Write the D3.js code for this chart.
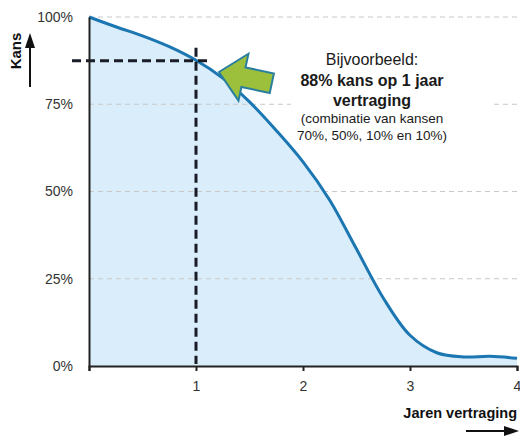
<!DOCTYPE html>
<html>
<head>
<meta charset="utf-8">
<script src="https://cdn.jsdelivr.net/npm/d3@7"></script>
<style>
  body { margin: 0; background: #fff; }
  svg { display: block; font-family: "Liberation Sans", Arial, sans-serif; }
</style>
</head>
<body>
<svg id="chart" width="520" height="436"></svg>
<script>
// Chart data
const years = [0, 0.25, 0.5, 0.75, 1, 1.25, 1.5, 1.75, 2, 2.25, 2.5, 2.75, 3, 3.25, 3.5, 3.75, 4];
const kans = [1.0, 0.972, 0.946, 0.915, 0.876, 0.825, 0.757, 0.675, 0.585, 0.475, 0.335, 0.195, 0.088, 0.038, 0.026, 0.028, 0.022];
const xTicks = [0, 1, 2, 3, 4];
const yTicks = [0, 0.25, 0.5, 0.75, 1];
const highlightYear = 1;
const highlightKans = 0.875;
const noteLines = ['Bijvoorbeeld:', '88% kans op 1 jaar', 'vertraging', '(combinatie van kansen', '70%, 50%, 10% en 10%)'];

const svg = d3.select('#chart');

const x = d3.scaleLinear().domain([0, 4]).range([89, 517]);
const y = d3.scaleLinear().domain([0, 1]).range([366, 17]);

const points = years.map((yr, i) => ({ yr: yr, p: kans[i] }));
const smooth = d3.curveCatmullRom.alpha(0.5);

// Filled area under the curve
const area = d3.area()
    .x(d => x(d.yr))
    .y0(y(0))
    .y1(d => y(d.p))
    .curve(smooth);

svg.append('path')
    .datum(points)
    .attr('d', area)
    .attr('fill', '#daedfb');

// Light dashed gridlines
svg.append('g')
    .selectAll('line')
    .data(yTicks.filter(t => t > 0))
    .enter().append('line')
    .attr('x1', x(0))
    .attr('x2', x(4))
    .attr('y1', d => y(d))
    .attr('y2', d => y(d))
    .attr('stroke', '#c8c8c8')
    .attr('stroke-width', 1)
    .attr('stroke-dasharray', '5,4');

// White backing behind the annotation (hides the 75% gridline there)
svg.append('rect')
    .attr('x', 291)
    .attr('y', 46)
    .attr('width', 201)
    .attr('height', 66)
    .attr('fill', '#fff');

// Curve
const line = d3.line()
    .x(d => x(d.yr))
    .y(d => y(d.p))
    .curve(smooth);

svg.append('path')
    .datum(points)
    .attr('d', line)
    .attr('fill', 'none')
    .attr('stroke', '#1b76b2')
    .attr('stroke-width', 3);

// Dashed reference lines for the example
svg.append('line')
    .attr('x1', x(0) - 17)
    .attr('x2', x(highlightYear) + 14)
    .attr('y1', y(highlightKans))
    .attr('y2', y(highlightKans))
    .attr('stroke', '#1a1c28')
    .attr('stroke-width', 3)
    .attr('stroke-dasharray', '9,5');

svg.append('line')
    .attr('x1', x(highlightYear))
    .attr('x2', x(highlightYear))
    .attr('y1', y(highlightKans) - 13)
    .attr('y2', y(0) - 2)
    .attr('stroke', '#1a1c28')
    .attr('stroke-width', 3)
    .attr('stroke-dasharray', '9,5');

// Axes
const xAxis = d3.axisBottom(x)
    .tickValues(xTicks)
    .tickSize(5)
    .tickPadding(10)
    .tickFormat(d => d === 0 ? '' : d);

const gx = svg.append('g')
    .attr('transform', `translate(0,${y(0)})`)
    .call(xAxis);
gx.select('.domain').attr('stroke', '#222').attr('stroke-width', 2);
gx.selectAll('.tick line').attr('stroke', '#222').attr('stroke-width', 2);
gx.selectAll('.tick text')
    .attr('font-size', '14px')
    .attr('font-family', '"Liberation Sans", Arial, sans-serif')
    .attr('fill', '#333');

const yAxis = d3.axisLeft(y)
    .tickValues(yTicks)
    .tickSize(0)
    .tickPadding(16)
    .tickFormat(d3.format('.0%'));

const gy = svg.append('g')
    .attr('transform', `translate(${x(0)},0)`)
    .call(yAxis);
gy.select('.domain').attr('stroke', '#222').attr('stroke-width', 2);
gy.selectAll('.tick text')
    .attr('font-size', '14px')
    .attr('font-family', '"Liberation Sans", Arial, sans-serif')
    .attr('fill', '#333');

// Annotation text
const noteY = [65, 86, 106, 123, 140];
const note = svg.append('g');
noteLines.forEach((t, i) => {
    note.append('text')
        .attr('x', 372)
        .attr('y', noteY[i])
        .attr('text-anchor', 'middle')
        .attr('font-size', i < 3 ? '16px' : '13.5px')
        .attr('font-weight', (i === 1 || i === 2) ? 'bold' : 'normal')
        .attr('fill', '#1a1a1a')
        .text(t);
});

// Green block arrow pointing at the curve
const arrowShape = [[0, 0], [25, -24], [25, -10], [54, -10], [54, 10], [25, 10], [25, 24]];
svg.append('path')
    .attr('d', d3.line()(arrowShape) + 'Z')
    .attr('transform', 'translate(219,72) rotate(12)')
    .attr('fill', '#9cc03c')
    .attr('stroke', '#2b7f9e')
    .attr('stroke-width', 2)
    .attr('stroke-linejoin', 'miter');

// Axis titles with arrows
svg.append('text')
    .attr('transform', 'translate(21,51) rotate(-90)')
    .attr('text-anchor', 'middle')
    .attr('font-size', '15px')
    .attr('font-weight', 'bold')
    .attr('fill', '#111')
    .text('Kans');

svg.append('line')
    .attr('x1', 30).attr('x2', 30)
    .attr('y1', 87).attr('y2', 46)
    .attr('stroke', '#111')
    .attr('stroke-width', 2);
svg.append('path')
    .attr('d', 'M30,33 L35,48 L25,48 Z')
    .attr('fill', '#111');

svg.append('text')
    .attr('x', 517)
    .attr('y', 418)
    .attr('text-anchor', 'end')
    .attr('font-size', '14.5px')
    .attr('font-weight', 'bold')
    .attr('fill', '#111')
    .text('Jaren vertraging');

svg.append('line')
    .attr('x1', 466).attr('x2', 505)
    .attr('y1', 431).attr('y2', 431)
    .attr('stroke', '#111')
    .attr('stroke-width', 2);
svg.append('path')
    .attr('d', 'M519,431 L504,426 L504,436 Z')
    .attr('fill', '#111');
</script>
</body>
</html>
